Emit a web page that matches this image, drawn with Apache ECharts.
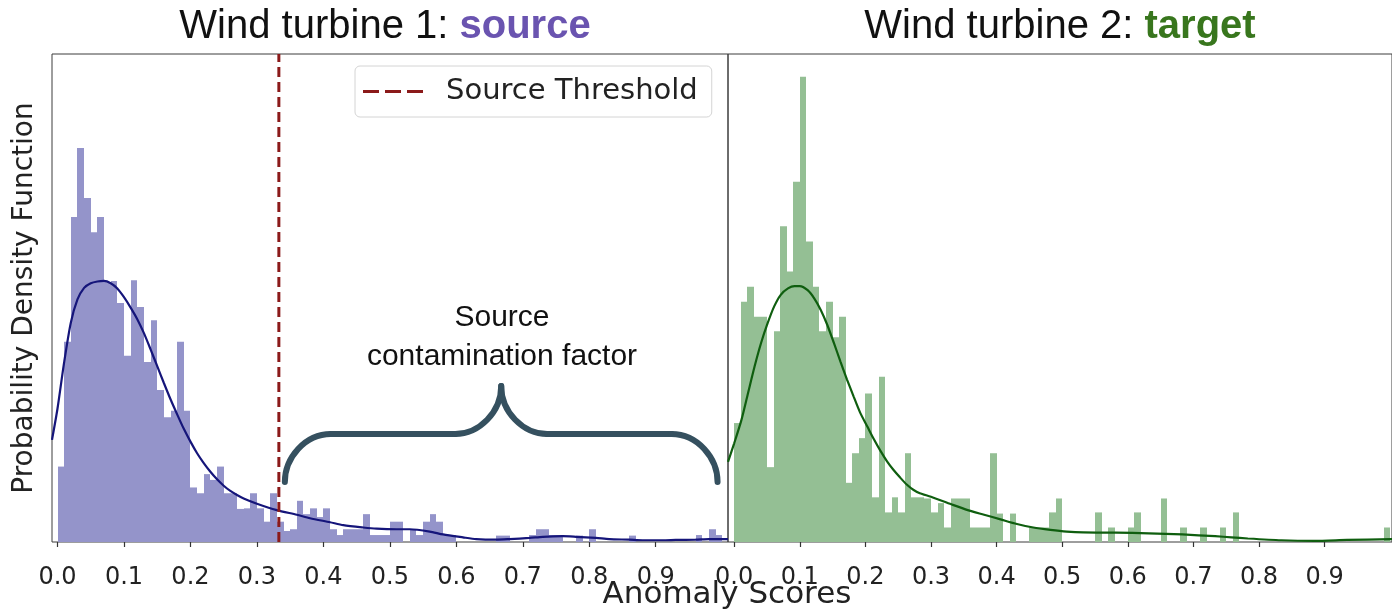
<!DOCTYPE html>
<html>
<head>
<meta charset="utf-8">
<script src="https://cdn.jsdelivr.net/npm/echarts@6/dist/echarts.min.js"></script>
<style>
  html, body { margin: 0; padding: 0; background: #ffffff; }
  #chart { width: 1392px; height: 609px; }
</style>
</head>
<body>
<div id="chart"></div>
<script>
// Histogram bins are 0.01 wide, starting at 0.0
const BIN_WIDTH = 0.01;

// Wind turbine 1 (source): density per bin
const sourceDensity = [
  1.30, 3.45, 5.60, 6.79, 5.93, 5.34, 5.60, 4.48, 4.50, 4.12,
  3.21, 4.51, 4.05, 3.10, 3.82, 2.62, 2.15, 2.26, 3.45, 2.26,
  0.94, 0.84, 1.17, 1.07, 1.30, 0.84, 0.84, 0.57, 0.58, 0.84,
  0.58, 0.35, 0.84, 0.35, 0.19, 0.22, 0.71, 0.48, 0.58, 0.43,
  0.58, 0.22, 0.12, 0.22, 0.22, 0.22, 0.48, 0.12, 0.12, 0.12,
  0.35, 0.35, 0.00, 0.22, 0.12, 0.35, 0.48, 0.35, 0.12, 0.12,
  0.00, 0.00, 0.00, 0.00, 0.00, 0.00, 0.11, 0.11, 0.00, 0.00,
  0.00, 0.12, 0.22, 0.22, 0.12, 0.12, 0.00, 0.00, 0.11, 0.00,
  0.22, 0.00, 0.00, 0.00, 0.00, 0.00, 0.11, 0.00, 0.00, 0.00,
  0.00, 0.00, 0.00, 0.00, 0.00, 0.00, 0.12, 0.00, 0.22, 0.12
];

// Wind turbine 2 (target): density per bin
const targetDensity = [
  2.05, 4.14, 4.40, 3.88, 3.88, 1.29, 3.63, 5.44, 4.66, 6.21,
  8.02, 5.18, 4.40, 3.63, 4.14, 3.53, 3.88, 1.02, 1.53, 1.79,
  2.56, 0.77, 2.85, 0.51, 0.77, 0.51, 1.53, 0.77, 0.77, 0.75,
  0.51, 0.67, 0.25, 0.75, 0.75, 0.75, 0.25, 0.25, 0.25, 1.53,
  0.49, 0.00, 0.49, 0.00, 0.00, 0.25, 0.25, 0.25, 0.51, 0.75,
  0.00, 0.00, 0.00, 0.00, 0.00, 0.51, 0.00, 0.25, 0.00, 0.00,
  0.25, 0.51, 0.00, 0.00, 0.00, 0.75, 0.00, 0.00, 0.25, 0.00,
  0.00, 0.25, 0.00, 0.00, 0.25, 0.00, 0.51, 0.00, 0.00, 0.00,
  0.00, 0.00, 0.00, 0.00, 0.00, 0.00, 0.00, 0.00, 0.00, 0.00,
  0.00, 0.00, 0.00, 0.00, 0.00, 0.00, 0.00, 0.00, 0.00, 0.25
];

// Kernel density estimates: [score, density]
const sourceKde = [
  [-0.0083, 1.76], [0.00, 2.30], [0.01, 3.10], [0.02, 3.78], [0.03, 4.18],
  [0.04, 4.38], [0.05, 4.46], [0.06, 4.49], [0.07, 4.50], [0.08, 4.46],
  [0.09, 4.37], [0.10, 4.22], [0.11, 4.04], [0.12, 3.84], [0.13, 3.60],
  [0.14, 3.32], [0.15, 3.03], [0.16, 2.74], [0.17, 2.46], [0.18, 2.20],
  [0.19, 1.95], [0.20, 1.73], [0.21, 1.53], [0.22, 1.36], [0.23, 1.21],
  [0.24, 1.08], [0.25, 0.97], [0.26, 0.88], [0.27, 0.81], [0.28, 0.75],
  [0.30, 0.66], [0.33, 0.55], [0.36, 0.47], [0.38, 0.41], [0.41, 0.34],
  [0.43, 0.29], [0.46, 0.25], [0.48, 0.23], [0.51, 0.22], [0.53, 0.22],
  [0.56, 0.18], [0.58, 0.13], [0.61, 0.08], [0.63, 0.05], [0.66, 0.04],
  [0.68, 0.05], [0.71, 0.07], [0.73, 0.09], [0.76, 0.10], [0.78, 0.09],
  [0.81, 0.07], [0.83, 0.05], [0.86, 0.04], [0.88, 0.03], [0.91, 0.03],
  [0.93, 0.035], [0.96, 0.04], [0.98, 0.05], [1.0087, 0.05]
];

const targetKde = [
  [-0.0094, 1.38], [0.000, 1.70], [0.011, 2.10], [0.021, 2.56], [0.031, 3.02],
  [0.041, 3.43], [0.051, 3.77], [0.061, 4.06], [0.071, 4.26], [0.082, 4.37],
  [0.092, 4.41], [0.100, 4.41], [0.112, 4.34], [0.122, 4.20], [0.132, 4.00],
  [0.142, 3.74], [0.152, 3.43], [0.162, 3.11], [0.172, 2.80], [0.182, 2.51],
  [0.192, 2.23], [0.203, 1.99], [0.213, 1.77], [0.223, 1.57], [0.233, 1.39],
  [0.243, 1.24], [0.253, 1.11], [0.263, 0.99], [0.273, 0.90], [0.283, 0.84],
  [0.300, 0.78], [0.331, 0.65], [0.356, 0.55], [0.381, 0.47], [0.406, 0.39],
  [0.431, 0.31], [0.456, 0.25], [0.482, 0.21], [0.507, 0.18], [0.532, 0.165],
  [0.582, 0.16], [0.632, 0.15], [0.683, 0.13], [0.733, 0.10], [0.758, 0.08],
  [0.783, 0.06], [0.834, 0.03], [0.884, 0.02], [0.934, 0.035], [1.0027, 0.05]
];

const sourceThreshold = 0.333;
const tickValues = [0.0, 0.1, 0.2, 0.3, 0.4, 0.5, 0.6, 0.7, 0.8, 0.9];
const thresholdName = 'Source Threshold';
const xAxisTitle = 'Anomaly Scores';
const yAxisTitle = 'Probability Density Function';
const annotationLines = ['Source', 'contamination factor'];

const Y_MAX = 8.41;
const TICK_FONT = "'DejaVu Sans', sans-serif";
const TITLE_FONT = "'Liberation Sans', Arial, sans-serif";
const THRESHOLD_COLOR = '#8b1a1a';

function histData(values) {
  return values.map((d, i) => [i * BIN_WIDTH, (i + 1) * BIN_WIDTH, d]);
}

// Draws one histogram bin as a rectangle through the axis scales
function histRenderer(color) {
  return function (params, api) {
    const h = api.value(2);
    if (!(h > 0)) return null;
    const p0 = api.coord([api.value(0), h]);
    const p1 = api.coord([api.value(1), 0]);
    const x0 = Math.round(p0[0]);
    const x1 = Math.round(p1[0]);
    const cs = params.coordSys;
    const shape = echarts.graphic.clipRectByRect(
      { x: x0, y: p0[1], width: x1 - x0, height: p1[1] - p0[1] },
      { x: cs.x, y: cs.y, width: cs.width, height: cs.height }
    );
    return shape && { type: 'rect', shape: shape, style: { fill: color } };
  };
}

function xAxisFor(gridIndex, min, max) {
  return {
    type: 'value',
    gridIndex: gridIndex,
    min: min,
    max: max,
    splitLine: { show: false },
    axisLine: { show: false },
    axisTick: {
      show: true, length: 5, customValues: tickValues,
      lineStyle: { color: '#333', width: 1.2 }
    },
    axisLabel: {
      show: true, customValues: tickValues, margin: 24,
      fontFamily: TICK_FONT, fontSize: 24, color: '#222',
      formatter: (v) => v.toFixed(1)
    }
  };
}

function yAxisFor(gridIndex) {
  return {
    type: 'value', gridIndex: gridIndex, min: 0, max: Y_MAX,
    axisLine: { show: false }, axisTick: { show: false },
    axisLabel: { show: false }, splitLine: { show: false }
  };
}

const chart = echarts.init(document.getElementById('chart'), null, { renderer: 'canvas' });

chart.setOption({
  animation: false,
  backgroundColor: '#ffffff',
  grid: [
    { left: 52, top: 54, width: 676, height: 488, show: true, borderColor: '#3c3c3c', borderWidth: 1 },
    { left: 728, top: 54, width: 670, height: 488, show: true, borderColor: '#3c3c3c', borderWidth: 1 }
  ],
  xAxis: [xAxisFor(0, -0.0083, 1.0087), xAxisFor(1, -0.0094, 1.0027)],
  yAxis: [yAxisFor(0), yAxisFor(1)],
  legend: {
    data: [{
      name: thresholdName,
      icon: 'path://M0 0H16V3H0Z M22 0H38V3H22Z M44 0H60V3H44Z'
    }],
    left: 355, top: 66,
    selectedMode: false,
    itemWidth: 62, itemHeight: 3,
    padding: [11, 14, 11, 8],
    borderColor: '#d4d4d4', borderWidth: 1, borderRadius: 5,
    backgroundColor: 'rgba(255,255,255,0.85)',
    itemStyle: { color: THRESHOLD_COLOR },
    textStyle: { fontFamily: TICK_FONT, fontSize: 29, color: '#222', padding: [0, 0, 0, 17] }
  },
  series: [
    {
      type: 'custom', name: 'source histogram', xAxisIndex: 0, yAxisIndex: 0,
      data: histData(sourceDensity), encode: { x: [0, 1], y: 2 },
      renderItem: histRenderer('#9494ca'), z: 1
    },
    {
      type: 'line', name: 'source kde', xAxisIndex: 0, yAxisIndex: 0,
      data: sourceKde, showSymbol: false, symbol: 'none',
      smooth: 0.25, clip: true,
      lineStyle: { color: '#15157a', width: 2.2 }, z: 3
    },
    {
      type: 'line', name: thresholdName, xAxisIndex: 0, yAxisIndex: 0,
      data: [[sourceThreshold, 0], [sourceThreshold, Y_MAX]],
      symbol: 'none', showSymbol: false,
      lineStyle: { color: THRESHOLD_COLOR, width: 3, type: [10, 5] },
      itemStyle: { color: THRESHOLD_COLOR }, z: 4
    },
    {
      type: 'custom', name: 'target histogram', xAxisIndex: 1, yAxisIndex: 1,
      data: histData(targetDensity), encode: { x: [0, 1], y: 2 },
      renderItem: histRenderer('#94bf94'), z: 1
    },
    {
      type: 'line', name: 'target kde', xAxisIndex: 1, yAxisIndex: 1,
      data: targetKde, showSymbol: false, symbol: 'none',
      smooth: 0.25, clip: true,
      lineStyle: { color: '#0f5e0f', width: 2.2 }, z: 3
    }
  ]
});

// Curly brace spanning the scores to the right of the threshold
const braceL = chart.convertToPixel({ xAxisIndex: 0 }, 0.342);
const braceR = chart.convertToPixel({ xAxisIndex: 0 }, 0.993);
const braceM = (braceL + braceR) / 2;
const yEnd = 482, yBar = 434, yTip = 386;
const braceStyle = { fill: null, stroke: '#35505f', lineWidth: 6, lineCap: 'round' };

function curve(x1, y1, cx1, cy1, cx2, cy2, x2, y2) {
  return {
    type: 'bezierCurve', z: 10,
    shape: { x1: x1, y1: y1, cpx1: cx1, cpy1: cy1, cpx2: cx2, cpy2: cy2, x2: x2, y2: y2 },
    style: braceStyle
  };
}
function segment(x1, y1, x2, y2) {
  return { type: 'line', z: 10, shape: { x1: x1, y1: y1, x2: x2, y2: y2 }, style: braceStyle };
}

const braceParts = [
  curve(braceL, yEnd, braceL, yBar + 24, braceL + 20, yBar, braceL + 46, yBar),
  segment(braceL + 46, yBar, braceM - 46, yBar),
  curve(braceM - 46, yBar, braceM - 22, yBar, braceM, yBar - 22, braceM, yTip),
  curve(braceM, yTip, braceM, yBar - 22, braceM + 22, yBar, braceM + 46, yBar),
  segment(braceM + 46, yBar, braceR - 46, yBar),
  curve(braceR - 46, yBar, braceR - 20, yBar, braceR, yBar + 24, braceR, yEnd)
];

function titleText(x, lead, accent, accentColor) {
  return {
    type: 'text', x: x, y: 27,
    style: {
      text: '{n|' + lead + '}{s|' + accent + '}',
      align: 'center', verticalAlign: 'middle',
      rich: {
        n: { fontFamily: TITLE_FONT, fontSize: 40, fill: '#111' },
        s: { fontFamily: TITLE_FONT, fontSize: 40, fontWeight: 'bold', fill: accentColor }
      }
    }
  };
}

chart.setOption({
  graphic: [
    titleText(385, 'Wind turbine 1: ', 'source', '#6a54b0'),
    titleText(1060, 'Wind turbine 2: ', 'target', '#38761d'),
    {
      type: 'text', x: 25, y: 298, rotation: Math.PI / 2,
      style: {
        text: yAxisTitle, align: 'center', verticalAlign: 'middle',
        fontFamily: TICK_FONT, fontSize: 28, fill: '#222'
      }
    },
    {
      type: 'text', x: 727, y: 595,
      style: {
        text: xAxisTitle, align: 'center', verticalAlign: 'middle',
        fontFamily: TICK_FONT, fontSize: 31, fill: '#222'
      }
    },
    {
      type: 'text', x: 502, y: 318,
      style: {
        text: annotationLines[0], align: 'center', verticalAlign: 'middle',
        fontFamily: TITLE_FONT, fontSize: 30, fill: '#111'
      }
    },
    {
      type: 'text', x: 502, y: 357,
      style: {
        text: annotationLines[1], align: 'center', verticalAlign: 'middle',
        fontFamily: TITLE_FONT, fontSize: 30, fill: '#111'
      }
    }
  ].concat(braceParts)
});
</script>
</body>
</html>
